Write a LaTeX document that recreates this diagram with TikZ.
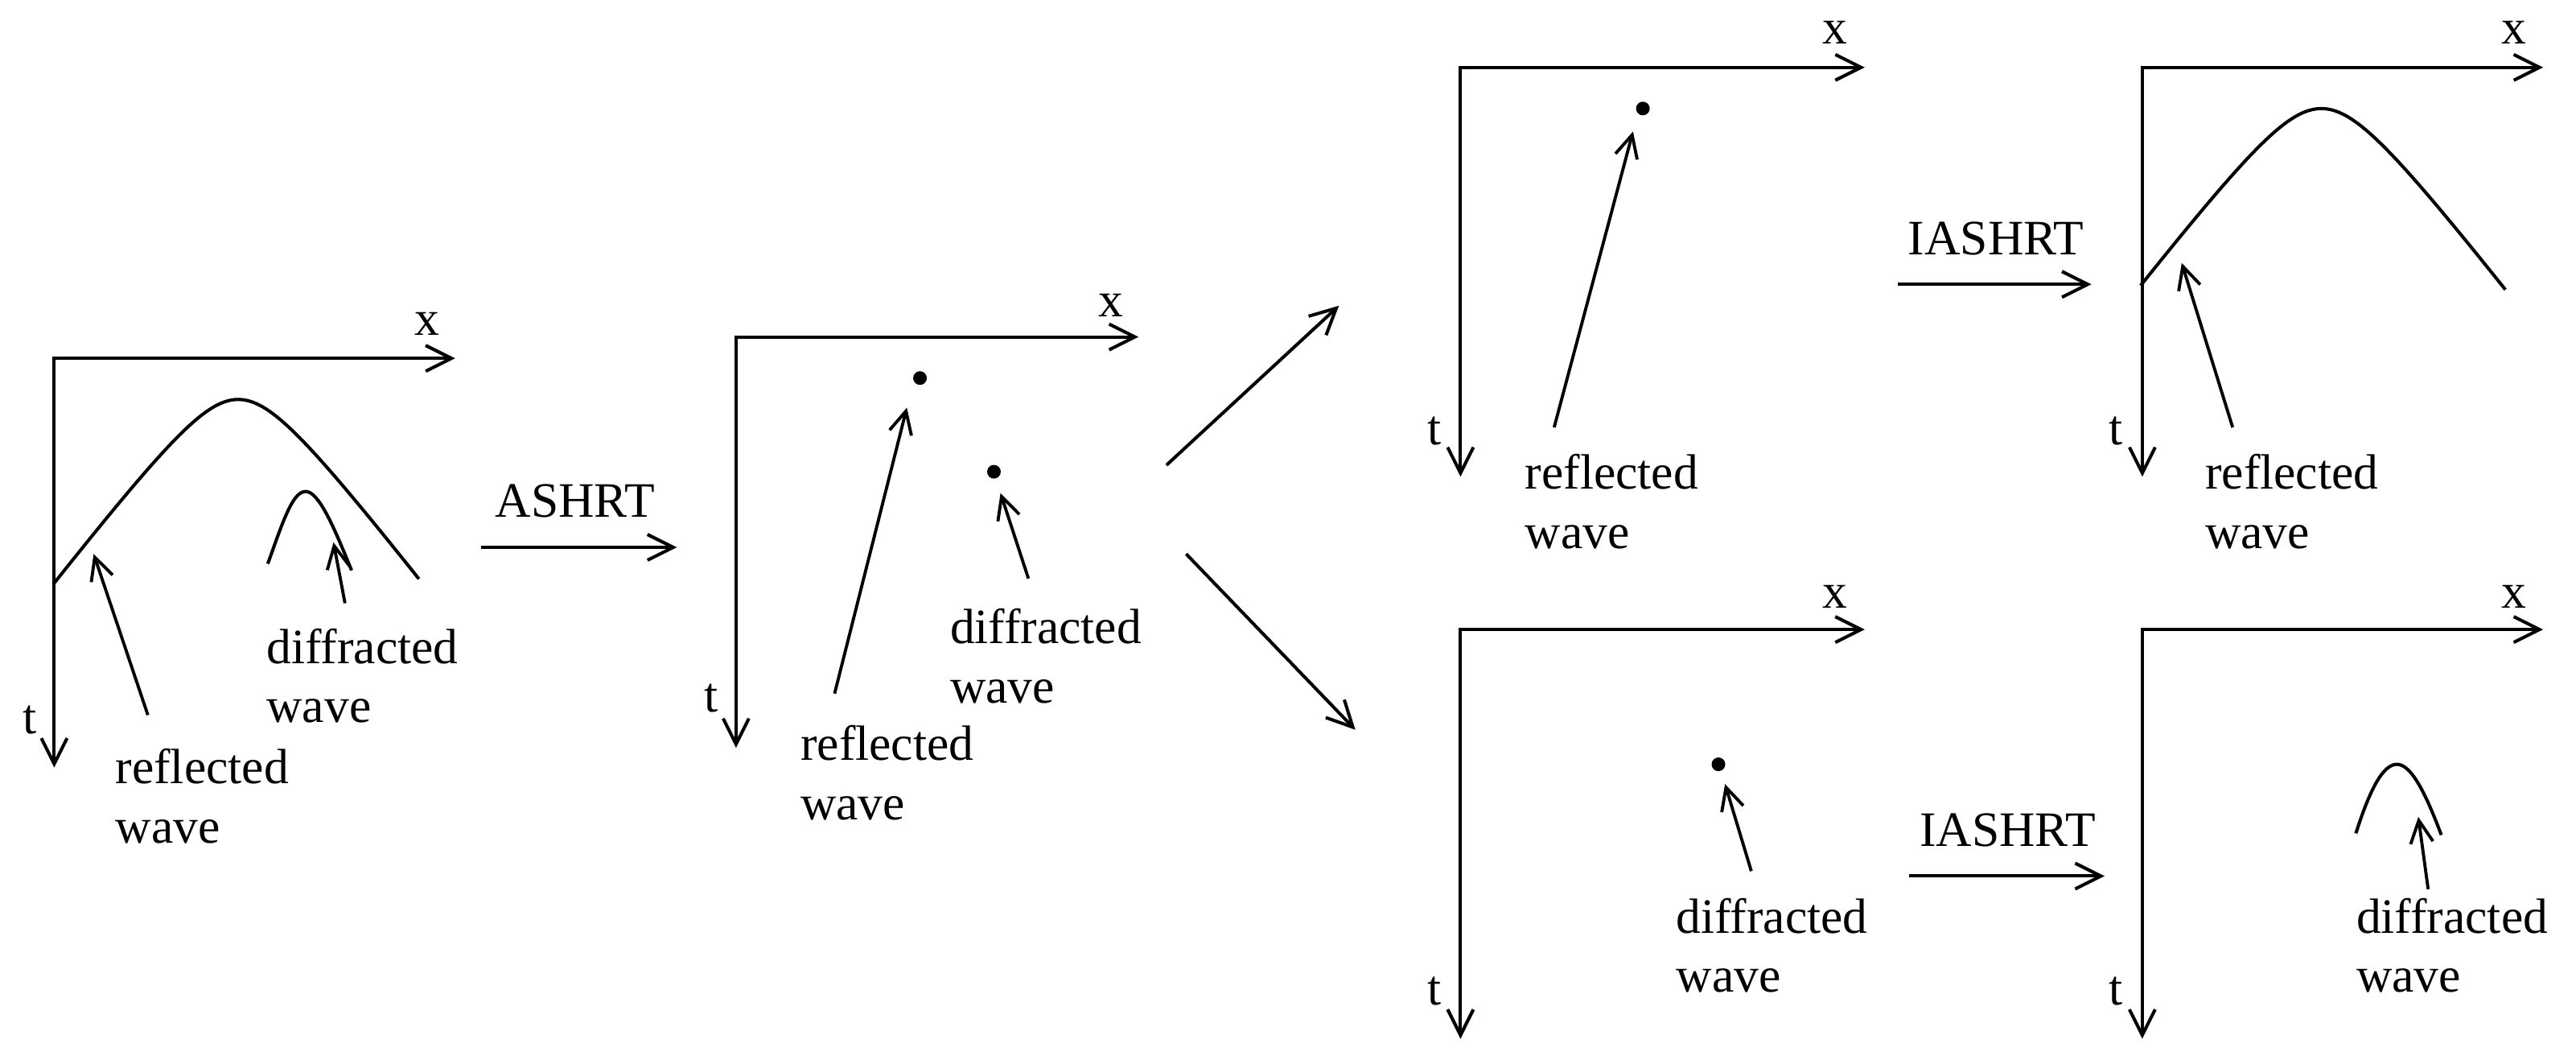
\documentclass[tikz,border=0pt]{standalone}
\usepackage{fontspec}
\setmainfont{Liberation Serif}
\usetikzlibrary{arrows.meta}
\begin{document}
\begin{tikzpicture}[x=0.02042cm, y=-0.02042cm,
  axes/.style={line width=1.15pt, {Straight Barb[length=0.32cm,width=0.32cm]}-{Straight Barb[length=0.32cm,width=0.32cm]}},
  bigarrow/.style={line width=1.15pt, -{Straight Barb[length=0.32cm,width=0.32cm]}},
  pointer/.style={line width=1.1pt, -{Straight Barb[length=0.28cm,width=0.28cm]}},
  wave/.style={line width=1.15pt},
  lbl/.style={font=\fontsize{17.5}{21}\selectfont, align=left, inner sep=0pt, anchor=north west},
  axl/.style={font=\fontsize{17.5}{21}\selectfont, inner sep=0pt},
  dotmark/.style={circle, fill, inner sep=0pt, minimum size=0.17cm}]
\useasboundingbox (0,0) rectangle (1568,642);

% ---------- panel 1 ----------
\coordinate (o1) at (33,218); \coordinate (x1) at (277,218); \coordinate (t1) at (33,467);
\draw[axes] (x1) -- (o1) -- (t1);
\node[axl] (xl1) at (260,197) {x};
\node[axl] (tl1) at (18,438) {t};
\draw[wave] plot[domain=-112:110, samples=80] ({145+\x},{243+1.3*(sqrt(900+\x*\x)-30)});
\draw[wave] (163,343) .. controls (172,318) and (178,299) .. (186,299) .. controls (194,299) and (203,320) .. (214,347);
\node[lbl] (r1) at (70,455) {reflected\\wave};
\node[lbl] (d1) at (162,382) {diffracted\\wave};
\coordinate (r1tail) at (90,435); \coordinate (r1tip) at (57,337);
\coordinate (d1tail) at (210,367); \coordinate (d1tip) at (203,330);
\draw[pointer] (r1tail) -- (r1tip);
\draw[pointer] (d1tail) -- (d1tip);

% ASHRT
\coordinate (a1s) at (293,333); \coordinate (a1e) at (412,333);
\draw[bigarrow] (a1s) -- (a1e);
\node[axl] (ashrt) at (350,305) {ASHRT};

% ---------- panel 2 ----------
\coordinate (o2) at (448,205); \coordinate (x2) at (693,205); \coordinate (t2) at (448,455);
\draw[axes] (x2) -- (o2) -- (t2);
\node[axl] (xl2) at (676,186) {x};
\node[axl] (tl2) at (433,425) {t};
\node[dotmark] (p2a) at (560,230) {};
\node[dotmark] (p2b) at (605,287) {};
\node[lbl] (r2) at (487,441) {reflected\\wave};
\node[lbl] (d2) at (578,370) {diffracted\\wave};
\coordinate (r2tail) at (508,422); \coordinate (r2tip) at (552,248);
\coordinate (d2tail) at (626,352); \coordinate (d2tip) at (609,300);
\draw[pointer] (r2tail) -- (r2tip);
\draw[pointer] (d2tail) -- (d2tip);

% split arrows
\coordinate (s1) at (710,283); \coordinate (s1e) at (815,186);
\coordinate (s2) at (722,337); \coordinate (s2e) at (825,444);
\draw[bigarrow] (s1) -- (s1e);
\draw[bigarrow] (s2) -- (s2e);

% ---------- panel 3 ----------
\coordinate (o3) at (889,41); \coordinate (x3) at (1135,41); \coordinate (t3) at (889,290);
\draw[axes] (x3) -- (o3) -- (t3);
\node[axl] (xl3) at (1117,20) {x};
\node[axl] (tl3) at (873,262) {t};
\node[dotmark] (p3) at (1000,66) {};
\node[lbl] (r3) at (928,276) {reflected\\wave};
\coordinate (r3tail) at (946,260); \coordinate (r3tip) at (994,80);
\draw[pointer] (r3tail) -- (r3tip);

% IASHRT upper
\coordinate (i1s) at (1155,173); \coordinate (i1e) at (1273,173);
\draw[bigarrow] (i1s) -- (i1e);
\node[axl] (iashrt1) at (1215,145) {IASHRT};

% ---------- panel 4 ----------
\coordinate (o4) at (1304,41); \coordinate (x4) at (1548,41); \coordinate (t4) at (1304,290);
\draw[axes] (x4) -- (o4) -- (t4);
\node[axl] (xl4) at (1530,20) {x};
\node[axl] (tl4) at (1288,262) {t};
\draw[wave] plot[domain=-110:112, samples=80] ({1413+\x},{66+1.3*(sqrt(1000+\x*\x)-31.6)});
\node[lbl] (r4) at (1342,276) {reflected\\wave};
\coordinate (r4tail) at (1359,260); \coordinate (r4tip) at (1328,160);
\draw[pointer] (r4tail) -- (r4tip);

% ---------- panel 5 ----------
\coordinate (o5) at (889,383); \coordinate (x5) at (1135,383); \coordinate (t5) at (889,632);
\draw[axes] (x5) -- (o5) -- (t5);
\node[axl] (xl5) at (1117,363) {x};
\node[axl] (tl5) at (873,603) {t};
\node[dotmark] (p5) at (1046,465) {};
\node[lbl] (d5) at (1020,546) {diffracted\\wave};
\coordinate (d5tail) at (1066,530); \coordinate (d5tip) at (1050,477);
\draw[pointer] (d5tail) -- (d5tip);

% IASHRT lower
\coordinate (i2s) at (1162,533); \coordinate (i2e) at (1281,533);
\draw[bigarrow] (i2s) -- (i2e);
\node[axl] (iashrt2) at (1222,505) {IASHRT};

% ---------- panel 6 ----------
\coordinate (o6) at (1304,383); \coordinate (x6) at (1548,383); \coordinate (t6) at (1304,632);
\draw[axes] (x6) -- (o6) -- (t6);
\node[axl] (xl6) at (1530,363) {x};
\node[axl] (tl6) at (1288,603) {t};
\draw[wave] (1434,507) .. controls (1442,482) and (1450,465) .. (1459,465) .. controls (1468,465) and (1477,484) .. (1486,508);
\node[lbl] (d6) at (1434,546) {diffracted\\wave};
\coordinate (d6tail) at (1478,541); \coordinate (d6tip) at (1472,497);
\draw[pointer] (d6tail) -- (d6tip);
\end{tikzpicture}
\end{document}
